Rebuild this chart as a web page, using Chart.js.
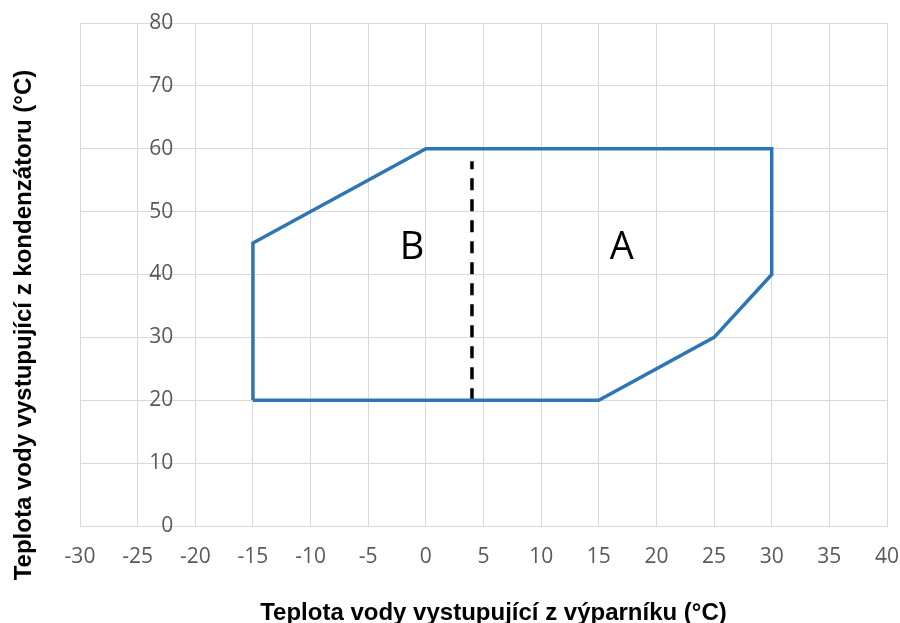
<!DOCTYPE html>
<html>
<head>
<meta charset="utf-8">
<script src="https://cdn.jsdelivr.net/npm/chart.js@4.4.1/dist/chart.umd.min.js"></script>
<style>
  html, body { margin: 0; padding: 0; background: #ffffff; }
  #wrap { width: 900px; height: 623px; position: relative; }
</style>
</head>
<body>
<div id="wrap"><canvas id="c"></canvas></div>
<script>
// ---- data ----
const envelopeX = [-15, -15, 0, 30, 30, 25, 15, -15];
const envelopeY = [20, 45, 60, 60, 40, 30, 20, 20];
const dividerX = [4, 4];
const dividerY = [20, 58];
const zoneLabels = ['B', 'A'];
const zoneX = [-1.2, 17.0];
const zoneY = [44.2, 44.2];
const xMin = -30, xMax = 40, xStep = 5;
const yMin = 0, yMax = 80, yStep = 10;
const xTitle = 'Teplota vody vystupující z výparníku (°C)';
const yTitle = 'Teplota vody vystupující z kondenzátoru (°C)';

const toPts = (xs, ys) => xs.map((x, i) => ({ x: x, y: ys[i] }));

const titleFont = 'bold 24px "Liberation Sans", Arial, sans-serif';

const annotationPlugin = {
  id: 'annotations',
  afterDatasetsDraw(chart) {
    const ctx = chart.ctx;
    const sx = chart.scales.x, sy = chart.scales.y;
    ctx.save();
    ctx.fillStyle = '#000000';
    ctx.font = '38px "Open Sans"';
    ctx.textAlign = 'center';
    ctx.textBaseline = 'middle';
    zoneLabels.forEach((t, i) => {
      ctx.fillText(t, sx.getPixelForValue(zoneX[i]), sy.getPixelForValue(zoneY[i]));
    });
    ctx.restore();
  },
  afterDraw(chart) {
    const ctx = chart.ctx;
    const ca = chart.chartArea;
    ctx.save();
    ctx.fillStyle = '#000000';
    ctx.font = titleFont;
    ctx.textAlign = 'center';
    ctx.textBaseline = 'alphabetic';
    // x-axis title
    ctx.fillText(xTitle, (ca.left + ca.right) / 2 + 10, 620);
    // y-axis title
    ctx.translate(31, 325);
    ctx.rotate(-Math.PI / 2);
    ctx.fillText(yTitle, 0, 0);
    ctx.restore();
  }
};

const gridColor = '#d9d9d9';
const tickFont = { family: '"Open Sans"', size: 21 };

new Chart(document.getElementById('c'), {
  type: 'scatter',
  data: {
    datasets: [
      {
        data: toPts(envelopeX, envelopeY),
        showLine: true,
        borderColor: '#2e75b6',
        borderWidth: 3.5,
        pointRadius: 0,
        fill: false,
        tension: 0
      },
      {
        data: toPts(dividerX, dividerY),
        showLine: true,
        borderColor: '#000000',
        borderWidth: 3.5,
        borderDash: [12, 9],
        pointRadius: 0,
        fill: false
      }
    ]
  },
  options: {
    responsive: true,
    maintainAspectRatio: false,
    animation: false,
    layout: { padding: { top: 23, right: 13, left: 0, bottom: 0 } },
    plugins: { legend: { display: false }, tooltip: { enabled: false } },
    scales: {
      x: {
        type: 'linear',
        min: xMin, max: xMax,
        ticks: { stepSize: xStep, autoSkip: false, color: '#595959', font: tickFont, padding: 0 },
        grid: { color: gridColor, lineWidth: 1, drawTicks: true, tickLength: 18, tickColor: 'rgba(0,0,0,0)' },
        border: { color: gridColor },
        title: { display: false },
        afterFit: s => { s.height = 97; }
      },
      y: {
        type: 'linear',
        min: yMin, max: yMax,
        ticks: { display: false, stepSize: yStep },
        grid: { color: gridColor, lineWidth: 1, drawTicks: false },
        border: { color: gridColor },
        title: { display: false },
        afterFit: s => { s.width = 80; }
      },
      y2: {
        type: 'linear',
        axis: 'y',
        position: { x: -21.9 },
        min: yMin, max: yMax,
        ticks: { stepSize: yStep, color: '#595959', font: tickFont, padding: 0 },
        grid: { display: false, drawTicks: false },
        border: { display: false },
        afterFit: s => { s.width = 0; }
      }
    }
  },
  plugins: [annotationPlugin]
});
</script>
</body>
</html>
